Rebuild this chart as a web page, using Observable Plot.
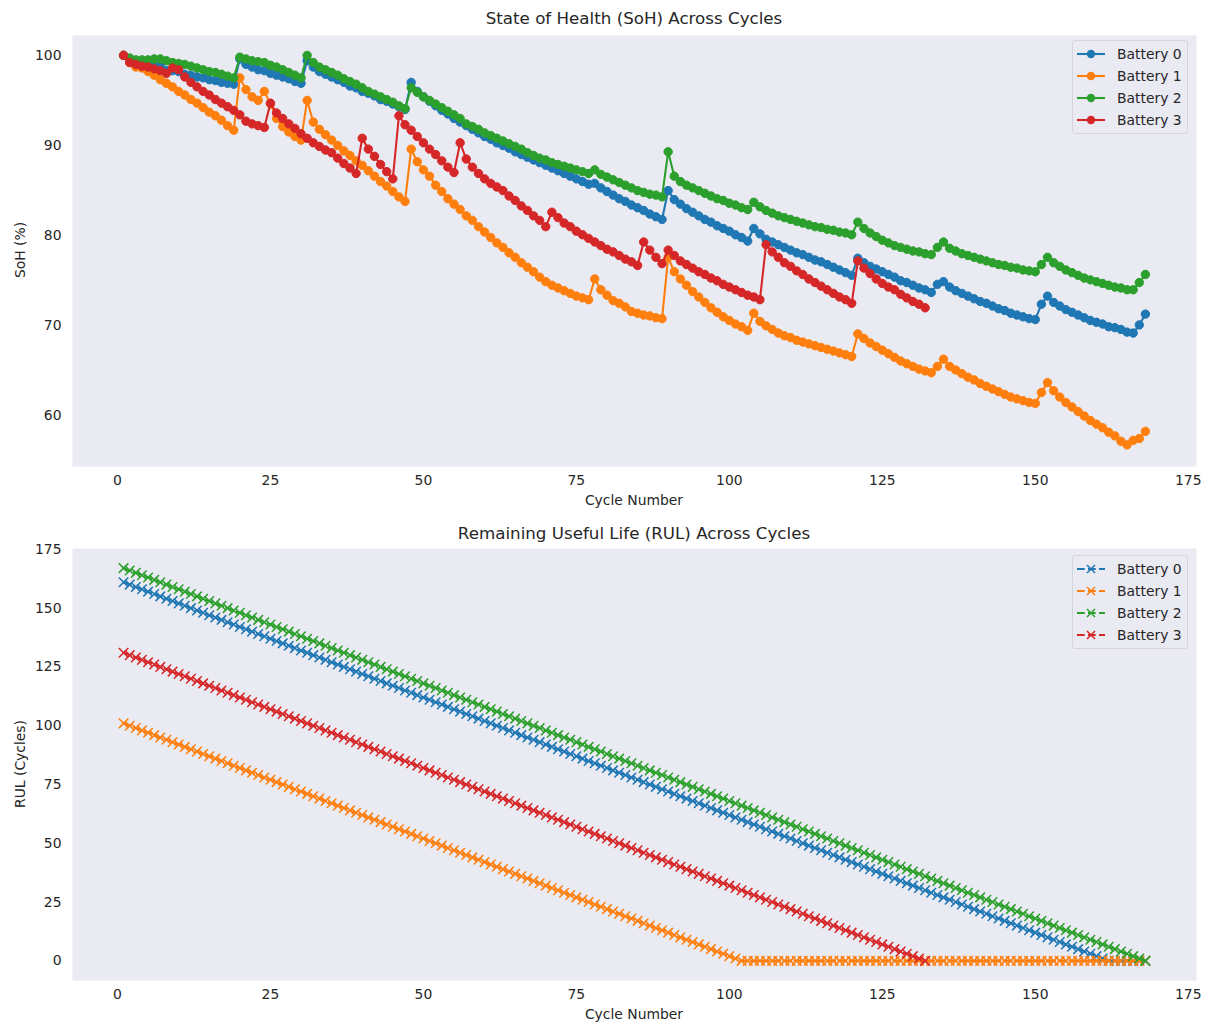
<!DOCTYPE html>
<html>
<head>
<meta charset="utf-8">
<script src="https://cdn.jsdelivr.net/npm/d3@7"></script>
<script src="https://cdn.jsdelivr.net/npm/@observablehq/plot@0.6"></script>
<style>
html,body{margin:0;padding:0;background:#fff;}
#fig{position:relative;width:1205px;height:1025px;font-family:"DejaVu Sans",sans-serif;color:#262626;overflow:hidden;background:#fff;}
#fig svg{position:absolute;left:0;}
.title{position:absolute;left:72px;width:1124px;text-align:center;font-size:16.7px;line-height:1;white-space:nowrap;}
.xlabel{position:absolute;left:72px;width:1124px;text-align:center;font-size:13.9px;line-height:1;white-space:nowrap;}
.ylabel{position:absolute;font-size:13.9px;line-height:1;white-space:nowrap;transform:translate(-50%,-50%) rotate(-90deg);}
.legend{position:absolute;left:1072px;width:114px;padding:2px 0 2px 0;background:rgba(234,234,242,0.8);border:1px solid #d4d4da;border-radius:3px;font-size:13.9px;}
.legend .row{height:22px;display:flex;align-items:center;}
.legend svg{position:static !important;margin-left:4px;margin-right:12px;}
</style>
</head>
<body>
<div id="fig"></div>
<script>
// ---------- data ----------
const batteries = ["Battery 0", "Battery 1", "Battery 2", "Battery 3"];
const xTicks = [0, 25, 50, 75, 100, 125, 150, 175];
const sohTicks = [60, 70, 80, 90, 100];
const rulTicks = [0, 25, 50, 75, 100, 125, 150, 175];

const cycles = [1,2,3,4,5,6,7,8,9,10,11,12,13,14,15,16,17,18,19,20,21,22,23,24,25,26,27,28,29,30,31,32,33,34,35,36,37,38,39,40,41,42,43,44,45,46,47,48,49,50,51,52,53,54,55,56,57,58,59,60,61,62,63,64,65,66,67,68,69,70,71,72,73,74,75,76,77,78,79,80,81,82,83,84,85,86,87,88,89,90,91,92,93,94,95,96,97,98,99,100,101,102,103,104,105,106,107,108,109,110,111,112,113,114,115,116,117,118,119,120,121,122,123,124,125,126,127,128,129,130,131,132,133,134,135,136,137,138,139,140,141,142,143,144,145,146,147,148,149,150,151,152,153,154,155,156,157,158,159,160,161,162,163,164,165,166,167,168];

// State of Health (%) per cycle
const soh0 = [100.0,99.5,98.9,98.9,98.8,98.9,98.8,98.3,98.3,98.2,97.9,97.8,97.6,97.5,97.3,97.2,97.0,96.9,96.8,
  99.6,99.0,98.7,98.4,98.3,98.0,97.8,97.6,97.4,97.1,96.9,
  99.4,98.7,98.2,97.9,97.6,97.3,97.0,96.6,96.4,96.0,95.8,95.5,95.1,94.9,94.6,94.3,94.0,
  97.0,96.0,95.4,94.9,94.4,93.9,93.5,93.0,92.6,92.2,91.8,91.4,91.0,90.7,90.3,90.0,89.7,89.3,89.0,88.7,88.4,88.1,87.8,87.5,87.2,86.9,86.6,86.3,86.0,85.7,85.8,85.3,84.9,84.5,84.1,83.8,83.4,83.1,82.8,82.4,82.1,81.8,
  85.0,84.0,83.5,83.0,82.6,82.2,81.8,81.5,81.1,80.8,80.5,80.1,79.8,79.4,
  80.8,80.2,79.6,79.3,79.0,78.7,78.4,78.1,77.9,77.6,77.3,77.1,76.8,76.5,76.2,75.9,75.6,
  77.5,77.0,76.6,76.3,76.0,75.7,75.4,75.0,74.8,74.5,74.2,74.0,73.7,
  74.6,74.9,74.3,73.9,73.6,73.3,73.0,72.7,72.5,72.2,71.9,71.7,71.4,71.2,71.0,70.8,70.7,
  72.4,73.3,72.6,72.2,71.8,71.5,71.2,70.9,70.6,70.4,70.2,69.9,69.8,69.6,69.3,69.2,70.1,71.3];
const soh1 = [100.0,99.2,98.7,98.6,98.2,97.8,97.3,96.9,96.5,96.0,95.6,95.1,94.7,94.2,93.7,93.3,92.8,92.2,91.7,
  97.5,96.2,95.4,95.0,96.0,94.6,93.0,92.1,91.5,91.0,90.6,
  95.0,92.6,91.8,91.2,90.6,90.0,89.4,88.9,88.3,87.8,87.2,86.6,86.0,85.5,84.9,84.3,83.8,
  89.6,88.2,87.3,86.6,85.6,84.9,84.1,83.5,82.9,82.2,81.7,81.0,80.4,79.8,79.2,78.7,78.1,77.6,77.0,76.5,76.0,75.4,74.9,74.5,74.2,73.9,73.6,73.3,73.1,72.9,75.2,74.0,73.4,72.8,72.5,72.1,71.6,71.4,71.2,71.1,70.9,70.8,
  77.6,76.0,75.2,74.5,73.8,73.2,72.6,72.0,71.5,71.0,70.6,70.2,69.9,69.5,
  71.4,70.5,70.0,69.6,69.2,68.9,68.7,68.4,68.2,68.0,67.8,67.6,67.4,67.2,67.0,66.8,66.6,
  69.1,68.6,68.1,67.7,67.3,66.9,66.5,66.1,65.8,65.5,65.2,65.0,64.8,
  65.5,66.3,65.5,65.1,64.7,64.3,64.0,63.6,63.3,63.0,62.7,62.4,62.1,61.9,61.7,61.5,61.4,
  62.6,63.7,62.8,62.1,61.5,61.0,60.5,60.0,59.5,59.1,58.7,58.2,57.8,57.2,56.8,57.3,57.5,58.3];
const soh2 = [100.0,99.7,99.5,99.5,99.5,99.6,99.6,99.4,99.2,99.1,99.0,98.8,98.6,98.4,98.2,98.1,97.9,97.7,97.5,
  99.8,99.6,99.4,99.3,99.2,98.9,98.7,98.4,98.1,97.8,97.5,
  100.0,99.2,98.7,98.4,98.1,97.8,97.4,97.1,96.8,96.4,96.0,95.7,95.4,95.1,94.8,94.4,94.1,
  96.4,95.9,95.4,95.0,94.6,94.2,93.8,93.4,93.0,92.4,92.1,91.8,91.4,91.1,90.8,90.5,90.2,89.9,89.6,89.2,88.9,88.6,88.4,88.1,87.9,87.7,87.5,87.3,87.1,86.9,87.3,86.8,86.5,86.2,85.9,85.6,85.3,85.0,84.8,84.6,84.5,84.3,
  89.3,86.6,86.0,85.6,85.3,85.0,84.7,84.4,84.1,83.9,83.6,83.4,83.1,82.9,
  83.7,83.2,82.8,82.5,82.2,82.0,81.8,81.6,81.4,81.2,81.0,80.9,80.7,80.6,80.4,80.3,80.1,
  81.5,80.8,80.3,79.9,79.5,79.2,78.9,78.7,78.5,78.3,78.2,78.0,77.9,
  78.7,79.3,78.6,78.3,78.0,77.8,77.6,77.4,77.2,77.0,76.8,76.7,76.5,76.4,76.2,76.1,76.0,
  76.8,77.6,77.0,76.6,76.2,75.9,75.6,75.3,75.1,74.9,74.7,74.5,74.3,74.2,74.0,74.0,74.8,75.7];
const soh3 = [100.0,99.2,99.0,98.8,98.7,98.5,98.3,98.0,98.6,98.4,97.6,97.0,96.5,96.0,95.6,95.1,94.7,94.3,93.9,93.4,92.7,92.4,92.2,92.0,
  94.7,93.6,93.0,92.4,91.9,91.3,90.8,90.3,89.9,89.5,89.2,88.6,88.0,87.5,86.9,
  90.8,89.6,88.8,87.9,87.1,86.3,
  93.3,92.3,91.7,91.0,90.3,89.6,89.0,88.3,87.6,87.0,
  90.3,88.5,87.6,86.9,86.3,85.8,85.4,85.0,84.4,83.9,83.3,82.8,82.2,81.7,81.0,
  82.6,82.0,81.4,81.0,80.5,80.1,79.7,79.3,78.9,78.5,78.2,77.8,77.4,77.1,76.7,
  79.3,78.4,77.6,76.9,
  78.4,77.8,77.2,76.8,76.4,76.0,75.7,75.3,75.0,74.6,74.3,74.0,73.7,73.4,73.2,72.9,
  79.0,78.2,77.6,77.0,76.6,76.1,75.7,75.2,74.8,74.4,74.0,73.6,73.2,72.9,72.5,
  77.2,76.4,75.8,75.2,74.7,74.3,74.0,73.5,73.1,72.7,72.4,72.0];

// Remaining Useful Life (cycles) per cycle
const rul0 = [161,160,159,158,157,156,155,154,153,152,151,150,149,148,147,146,145,144,143,142,141,140,139,138,137,136,135,134,133,132,131,130,129,128,127,126,125,124,123,122,121,120,119,118,117,116,115,114,113,112,111,110,109,108,107,106,105,104,103,102,101,100,99,98,97,96,95,94,93,92,91,90,89,88,87,86,85,84,83,82,81,80,79,78,77,76,75,74,73,72,71,70,69,68,67,66,65,64,63,62,61,60,59,58,57,56,55,54,53,52,51,50,49,48,47,46,45,44,43,42,41,40,39,38,37,36,35,34,33,32,31,30,29,28,27,26,25,24,23,22,21,20,19,18,17,16,15,14,13,12,11,10,9,8,7,6,5,4,3,2,1,0,0,0,0,0,0,0];
const rul1 = [101,100,99,98,97,96,95,94,93,92,91,90,89,88,87,86,85,84,83,82,81,80,79,78,77,76,75,74,73,72,71,70,69,68,67,66,65,64,63,62,61,60,59,58,57,56,55,54,53,52,51,50,49,48,47,46,45,44,43,42,41,40,39,38,37,36,35,34,33,32,31,30,29,28,27,26,25,24,23,22,21,20,19,18,17,16,15,14,13,12,11,10,9,8,7,6,5,4,3,2,1,0,
  0,0,0,0,0,0,0,0,0,0, 0,0,0,0,0,0,0,0,0,0, 0,0,0,0,0,0,0,0,0,0, 0,0,0,0,0,0,0,0,0,0, 0,0,0,0,0,0,0,0,0,0, 0,0,0,0,0,0,0,0,0,0, 0,0,0,0,0,0];
const rul2 = [167,166,165,164,163,162,161,160,159,158,157,156,155,154,153,152,151,150,149,148,147,146,145,144,143,142,141,140,139,138,137,136,135,134,133,132,131,130,129,128,127,126,125,124,123,122,121,120,119,118,117,116,115,114,113,112,111,110,109,108,107,106,105,104,103,102,101,100,99,98,97,96,95,94,93,92,91,90,89,88,87,86,85,84,83,82,81,80,79,78,77,76,75,74,73,72,71,70,69,68,67,66,65,64,63,62,61,60,59,58,57,56,55,54,53,52,51,50,49,48,47,46,45,44,43,42,41,40,39,38,37,36,35,34,33,32,31,30,29,28,27,26,25,24,23,22,21,20,19,18,17,16,15,14,13,12,11,10,9,8,7,6,5,4,3,2,1,0];
const rul3 = [131,130,129,128,127,126,125,124,123,122,121,120,119,118,117,116,115,114,113,112,111,110,109,108,107,106,105,104,103,102,101,100,99,98,97,96,95,94,93,92,91,90,89,88,87,86,85,84,83,82,81,80,79,78,77,76,75,74,73,72,71,70,69,68,67,66,65,64,63,62,61,60,59,58,57,56,55,54,53,52,51,50,49,48,47,46,45,44,43,42,41,40,39,38,37,36,35,34,33,32,31,30,29,28,27,26,25,24,23,22,21,20,19,18,17,16,15,14,13,12,11,10,9,8,7,6,5,4,3,2,1,0];

// ---------- styles ----------
const colors = ["#1f77b4", "#ff7f0e", "#2ca02c", "#d62728"];
const BG = "#eaeaf2";

const sohSeries = [soh0, soh1, soh2, soh3];
const rulSeries = [rul0, rul1, rul2, rul3];
const toRows = (arr) => arr.map((v, i) => ({cycle: cycles[i], value: v}));

const fig = document.getElementById("fig");
const baseStyle = {fontFamily: "DejaVu Sans", fontSize: "13.9px", color: "#262626", background: "transparent", overflow: "visible"};

// ---------- SoH panel ----------
const sohMarks = [Plot.frame({fill: BG, stroke: null})];
sohSeries.forEach((s, k) => {
  const rows = toRows(s);
  sohMarks.push(Plot.line(rows, {x: "cycle", y: "value", stroke: colors[k], strokeWidth: 2.1}));
  sohMarks.push(Plot.dot(rows, {x: "cycle", y: "value", fill: colors[k], stroke: colors[k], strokeWidth: 1, r: 4.2}));
});
const topPlot = Plot.plot({
  width: 1205, height: 515,
  marginTop: 35, marginBottom: 49, marginLeft: 72, marginRight: 9,
  style: baseStyle,
  x: {domain: [-7.35, 176.35], ticks: xTicks, tickSize: 0, tickPadding: 9, label: null},
  y: {domain: [54.4, 102.2], ticks: sohTicks, tickSize: 0, tickPadding: 11, label: null},
  marks: sohMarks
});
topPlot.style.top = "0px";
fig.appendChild(topPlot);

// ---------- RUL panel ----------
const rulMarks = [Plot.frame({fill: BG, stroke: null})];
rulSeries.forEach((s, k) => {
  const rows = toRows(s);
  rulMarks.push(Plot.line(rows, {x: "cycle", y: "value", stroke: colors[k], strokeWidth: 2.1, strokeDasharray: "7.7,3.3"}));
  rulMarks.push(Plot.dot(rows, {x: "cycle", y: "value", symbol: "times", stroke: colors[k], strokeWidth: 1.5, r: 4.4}));
});
const botPlot = Plot.plot({
  width: 1205, height: 510,
  marginTop: 33, marginBottom: 45, marginLeft: 72, marginRight: 9,
  style: baseStyle,
  x: {domain: [-7.35, 176.35], ticks: xTicks, tickSize: 0, tickPadding: 9, label: null},
  y: {domain: [-8.35, 175.35], ticks: rulTicks, tickSize: 0, tickPadding: 11, label: null},
  marks: rulMarks
});
botPlot.style.top = "515px";
fig.appendChild(botPlot);

// ---------- text ----------
function addDiv(cls, text, css) {
  const d = document.createElement("div");
  d.className = cls;
  d.textContent = text;
  Object.assign(d.style, css);
  fig.appendChild(d);
  return d;
}
addDiv("title", "State of Health (SoH) Across Cycles", {top: "10px"});
addDiv("xlabel", "Cycle Number", {top: "494px"});
addDiv("ylabel", "SoH (%)", {left: "21px", top: "250px"});
addDiv("title", "Remaining Useful Life (RUL) Across Cycles", {top: "525px"});
addDiv("xlabel", "Cycle Number", {top: "1008px"});
addDiv("ylabel", "RUL (Cycles)", {left: "21px", top: "764px"});

// ---------- legends ----------
function legend(top, kind) {
  const box = document.createElement("div");
  box.className = "legend";
  box.style.top = top + "px";
  batteries.forEach((name, k) => {
    const row = document.createElement("div");
    row.className = "row";
    const ns = "http://www.w3.org/2000/svg";
    const svg = document.createElementNS(ns, "svg");
    svg.setAttribute("width", 28); svg.setAttribute("height", 12);
    const line = document.createElementNS(ns, "line");
    line.setAttribute("x1", 0); line.setAttribute("x2", 28);
    line.setAttribute("y1", 6); line.setAttribute("y2", 6);
    line.setAttribute("stroke", colors[k]); line.setAttribute("stroke-width", 2.1);
    if (kind === "x") line.setAttribute("stroke-dasharray", "7.7,3.3");
    svg.appendChild(line);
    if (kind === "o") {
      const c = document.createElementNS(ns, "circle");
      c.setAttribute("cx", 14); c.setAttribute("cy", 6); c.setAttribute("r", 4.2);
      c.setAttribute("fill", colors[k]);
      svg.appendChild(c);
    } else {
      const p = document.createElementNS(ns, "path");
      p.setAttribute("d", "M10,2L18,10M10,10L18,2");
      p.setAttribute("stroke", colors[k]); p.setAttribute("stroke-width", 1.5); p.setAttribute("fill", "none");
      svg.appendChild(p);
    }
    row.appendChild(svg);
    const t = document.createElement("span");
    t.textContent = name;
    row.appendChild(t);
    box.appendChild(row);
  });
  fig.appendChild(box);
}
legend(40, "o");
legend(555, "x");
</script>
</body>
</html>
